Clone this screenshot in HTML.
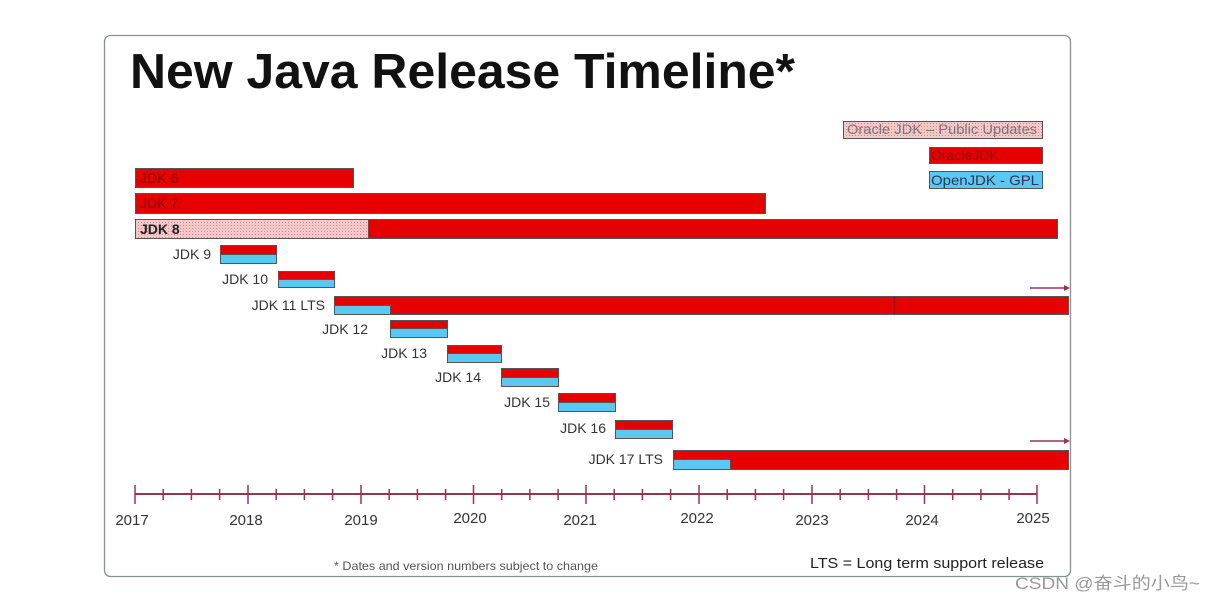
<!DOCTYPE html>
<html><head><meta charset="utf-8"><style>
html,body{margin:0;padding:0;background:#fff;}
svg{display:block;font-family:"Liberation Sans","Noto Sans CJK SC",sans-serif;}
</style></head><body>
<svg width="1213" height="602" viewBox="0 0 1213 602" xmlns="http://www.w3.org/2000/svg">
<defs>
<pattern id="dots" width="3" height="3" patternUnits="userSpaceOnUse">
<rect width="3" height="3" fill="#f4c8c8"/><rect width="1" height="1" fill="#d08a8a"/>
</pattern>
</defs>
<rect x="104.5" y="35.5" width="966" height="541" rx="6" fill="#fff" stroke="#8a9090" stroke-width="1.3"/>
<text x="130" y="88" font-size="49" font-weight="bold" fill="#111" textLength="665" lengthAdjust="spacingAndGlyphs">New Java Release Timeline*</text>

<g stroke="#555" stroke-width="1">
<rect x="843.5" y="121.5" width="199" height="17" fill="url(#dots)"/>
<rect x="929.5" y="147.5" width="113" height="16" fill="#e60000"/>
<rect x="929.5" y="171.5" width="113" height="17" fill="#5ac8f0"/>
<rect x="135.5" y="168.5" width="218" height="19" fill="#e60000"/>
<rect x="135.5" y="193.5" width="630" height="20" fill="#e60000"/>
<rect x="368.5" y="219.5" width="689" height="19" fill="#e60000"/>
<rect x="135.5" y="219.5" width="233" height="19" fill="url(#dots)"/>
<rect x="220.5" y="245.5" width="56" height="9" fill="#e60000"/><rect x="220.5" y="254.5" width="56" height="9" fill="#5ac8f0"/>
<rect x="278.5" y="271.5" width="56" height="8" fill="#e60000"/><rect x="278.5" y="279.5" width="56" height="8" fill="#5ac8f0"/>
<rect x="334.5" y="296.5" width="734" height="18" fill="#e60000"/><rect x="334.5" y="305.5" width="56" height="9" fill="#5ac8f0"/>
<line x1="894.5" y1="297" x2="894.5" y2="314" stroke="#600"/>
<rect x="390.5" y="320.5" width="57" height="8" fill="#e60000"/><rect x="390.5" y="328.5" width="57" height="9" fill="#5ac8f0"/>
<rect x="447.5" y="345.5" width="54" height="8" fill="#e60000"/><rect x="447.5" y="353.5" width="54" height="9" fill="#5ac8f0"/>
<rect x="501.5" y="368.5" width="57" height="9" fill="#e60000"/><rect x="501.5" y="377.5" width="57" height="9" fill="#5ac8f0"/>
<rect x="558.5" y="393.5" width="57" height="9" fill="#e60000"/><rect x="558.5" y="402.5" width="57" height="9" fill="#5ac8f0"/>
<rect x="615.5" y="420.5" width="57" height="9" fill="#e60000"/><rect x="615.5" y="429.5" width="57" height="9" fill="#5ac8f0"/>
<rect x="673.5" y="450.5" width="395" height="19" fill="#e60000"/><rect x="673.5" y="459.5" width="57" height="10" fill="#5ac8f0"/>
</g>
<g font-size="14">
<text x="847" y="134" fill="#777" textLength="190" lengthAdjust="spacingAndGlyphs">Oracle JDK – Public Updates</text>
<text x="931" y="160" fill="#900">OracleJDK</text>
<text x="931" y="185" fill="#335" textLength="108" lengthAdjust="spacingAndGlyphs">OpenJDK - GPL</text>
<text x="140" y="183" font-size="14" fill="#800">JDK 6</text>
<text x="140" y="208" font-size="14" fill="#800">JDK 7</text>
<text x="140" y="234" font-size="14" font-weight="bold" fill="#222">JDK 8</text>
</g>
<g font-size="14" fill="#333" text-anchor="end">
<text x="211" y="259">JDK 9</text>
<text x="268" y="284">JDK 10</text>
<text x="325" y="310">JDK 11 LTS</text>
<text x="368" y="334">JDK 12</text>
<text x="427" y="358">JDK 13</text>
<text x="481" y="382">JDK 14</text>
<text x="550" y="407">JDK 15</text>
<text x="606" y="433">JDK 16</text>
<text x="663" y="464">JDK 17 LTS</text>
</g>
<g stroke="#a03050" stroke-width="1.5" fill="#a03050">
<line x1="1030" y1="288" x2="1066" y2="288"/><path d="M1064 285 L1070 288 L1064 291Z" stroke="none"/>
<line x1="1030" y1="441" x2="1066" y2="441"/><path d="M1064 438 L1070 441 L1064 444Z" stroke="none"/>
<line x1="135" y1="494" x2="1037" y2="494" stroke-width="2"/>
</g>
<g stroke="#a03050" stroke-width="1.5">
<path d="M135 485V504M248 485V504M361 485V504M473.5 485V504M586 485V504M699 485V504M812 485V504M924.5 485V504M1037 485V504"/>
<path d="M163.2 489V500M191.4 489V500M219.6 489V500M276.2 489V500M304.4 489V500M332.6 489V500M389.2 489V500M417.4 489V500M445.6 489V500M501.7 489V500M529.9 489V500M558.1 489V500M614.2 489V500M642.4 489V500M670.6 489V500M727.2 489V500M755.4 489V500M783.6 489V500M840.2 489V500M868.4 489V500M896.6 489V500M952.7 489V500M980.9 489V500M1009.1 489V500"/>
</g>
<g font-size="15" fill="#333" text-anchor="middle">
<text x="132" y="525">2017</text><text x="246" y="525">2018</text><text x="361" y="525">2019</text>
<text x="470" y="523">2020</text><text x="580" y="525">2021</text><text x="697" y="523">2022</text>
<text x="812" y="525">2023</text><text x="922" y="525">2024</text><text x="1033" y="523">2025</text>
</g>
<text x="334" y="570" font-size="12" fill="#555" textLength="264" lengthAdjust="spacingAndGlyphs">* Dates and version numbers subject to change</text>
<text x="810" y="568" font-size="15" fill="#222" textLength="234" lengthAdjust="spacingAndGlyphs">LTS = Long term support release</text>
<text x="1015" y="589" font-size="17" fill="#999" textLength="185" lengthAdjust="spacingAndGlyphs">CSDN @奋斗的小鸟~</text>
</svg>
</body></html>
